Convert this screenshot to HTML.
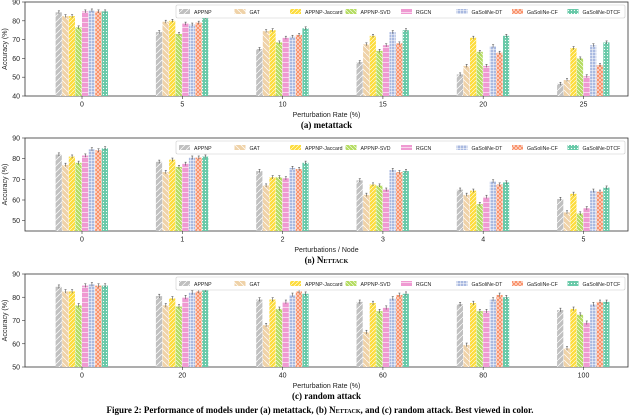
<!DOCTYPE html>
<html><head><meta charset="utf-8"><style>
html,body{margin:0;padding:0;background:#fff;}
svg{display:block;font-family:"Liberation Sans",sans-serif;}
</style></head><body>
<svg id="fig" width="640" height="417" viewBox="0 0 640 417" xmlns="http://www.w3.org/2000/svg">
<defs>
<pattern id="p0" width="6" height="6" patternUnits="userSpaceOnUse"><rect width="6" height="6" fill="#c0c0c0"/><path d="M0,6 L6,0" stroke="#fff" stroke-width="0.7"/></pattern>
<pattern id="p1" width="6" height="6" patternUnits="userSpaceOnUse"><rect width="6" height="6" fill="#efd2a8"/><path d="M0,0 L6,6" stroke="#fff" stroke-width="0.7"/></pattern>
<pattern id="p2" width="4" height="4" patternUnits="userSpaceOnUse"><rect width="4" height="4" fill="#fddc3c"/><path d="M0,4 L4,0" stroke="#fff" stroke-width="0.6"/></pattern>
<pattern id="p3" width="4" height="4" patternUnits="userSpaceOnUse"><rect width="4" height="4" fill="#b4dc60"/><path d="M0,0 L4,4" stroke="#fff" stroke-width="0.6"/></pattern>
<pattern id="p4" width="5" height="5" patternUnits="userSpaceOnUse"><rect width="5" height="5" fill="#ef9ad2"/><path d="M0,2.5 L5,2.5" stroke="#fff" stroke-width="0.6"/></pattern>
<pattern id="p5" width="3" height="3" patternUnits="userSpaceOnUse"><rect width="3" height="3" fill="#a9b9e0"/><path d="M0,1.5 L3,1.5 M1.5,0 L1.5,3" stroke="#fff" stroke-width="0.5"/></pattern>
<pattern id="p6" width="4" height="4" patternUnits="userSpaceOnUse"><rect width="4" height="4" fill="#f9936c"/><path d="M0,0 L4,4 M0,4 L4,0" stroke="#fff" stroke-width="0.5"/></pattern>
<pattern id="p7" width="3" height="3" patternUnits="userSpaceOnUse"><rect width="3" height="3" fill="#68c9a8"/><circle cx="1.5" cy="1.5" r="0.6" fill="#fff"/></pattern>
</defs>
</svg>
<script>
const seriesNames=["APPNP","GAT","APPNP-Jaccard","APPNP-SVD","RGCN","GaSoliNe-DT","GaSoliNe-CF","GaSoliNe-DTCF"];
const catsA=["0","5","10","15","20","25"];
const catsB=["0","1","2","3","4","5"];
const catsC=["0","20","40","60","80","100"];
const valsA=[[84.5,74,65,58,51.5,46.5],[82.5,79.5,74.5,67.5,56,48.5],[82.5,80,75,72,71,65.5],[76.5,73,68.5,64,63.5,60],[85,78.5,71,67,56,50.5],[85.5,78,71.5,74,66.5,67],[85,79,72.5,68,63,56.5],[85,81.5,76,75,72,68.5]];
const valsB=[[82,78.5,74,69.5,65,60.5],[77,73.5,67,62.5,62.5,54],[81,79.5,71,67.5,64.5,63],[78,76,71,67,58,53.5],[81.5,77.5,70.5,65,61.5,56],[84.5,80.5,75.5,74.5,69,64.5],[84,80.5,75,73.5,67.5,64],[85,81,78,74,68.5,66]];
const valsC=[[84.5,80.5,79,78,77,74.5],[82.5,76.5,68,65,59.5,58],[82.5,79.5,79,77.5,77.5,75],[76.5,76,75,74,74,72.5],[85,80,78,75.5,74,69],[85.5,82,81,79.5,79,77],[85,82.5,82.5,81,81,78],[85,83,81.5,81.5,80,78]];
const ticksA=[40,50,60,70,80,90];
const ticksB=[50,60,70,80,90];
const ticksC=[50,60,70,80,90];
const NS="http://www.w3.org/2000/svg";
const svg=document.getElementById('fig');
function mk(t,a,p){const e=document.createElementNS(NS,t);for(const k in a)e.setAttribute(k,a[k]);(p||svg).appendChild(e);return e;}
function txt(x,y,s,size,anchor,extra,p){const e=mk('text',Object.assign({x:x,y:y,'font-size':size,'text-anchor':anchor||'middle',fill:'#222'},extra||{}),p);e.textContent=s;return e;}
function panel(id,top,bot,ymin,ymax,ticks,cats,vals,xlabel,caption,smallcaps){
  const L=25,R=628;
  const g=mk('g',{});
  
  
  const ys=v=>bot-(v-ymin)/(ymax-ymin)*(bot-top);
  const xs=i=>82+i*100.3;
  mk('rect',{x:L,y:top,width:R-L,height:bot-top,fill:'none',stroke:'#333','stroke-width':0.8},g);
  ticks.forEach(t=>{mk('line',{x1:L-3,x2:L,y1:ys(t),y2:ys(t),stroke:'#333','stroke-width':0.6},g);
    const e=txt(L-5,ys(t)+2.5,String(t),7,'end',{},g);});
  const bw=6.6;
  cats.forEach((c,i)=>{mk('line',{x1:xs(i),x2:xs(i),y1:bot,y2:bot+3,stroke:'#333','stroke-width':0.6},g);
    const e=txt(xs(i),bot+10.5,c,7,'middle',{},g);});
  vals.forEach((ser,s)=>{ser.forEach((v,i)=>{
    const x=xs(i)-4*bw+s*bw;
    const r=mk('rect',{x:x,y:ys(v),width:bw-0.4,height:bot-ys(v),fill:'url(#p'+s+')'},g);
    
    
    const cx=x+bw/2;
    mk('line',{x1:cx,x2:cx,y1:ys(v+0.8),y2:ys(v-0.8),stroke:'#555','stroke-width':0.6},g);
    mk('line',{x1:cx-1,x2:cx+1,y1:ys(v+0.8),y2:ys(v+0.8),stroke:'#555','stroke-width':0.6},g);
  });});
  const yl=txt(0,0,'Accuracy (%)',7,'middle',{transform:'translate(7,'+((top+bot)/2)+') rotate(-90)'},g);
  
  const xl=txt((L+R)/2,bot+21,xlabel,7,'middle',{},g);
  
  const cp=txt((L+R)/2,bot+32,caption,9,'middle',{'font-family':'Liberation Serif, serif','font-weight':'bold',fill:'#000'},g);
  if(smallcaps)cp.setAttribute('style','font-variant:small-caps');
  
  const lg=mk('g',{},g);
  
  mk('rect',{x:176,y:top+3,width:449,height:13,fill:'#fff',stroke:'#ccc','stroke-width':0.6,rx:1.5},lg);
  seriesNames.forEach((n,s)=>{const lx=179+s*55.5;
    const sw=mk('rect',{x:lx,y:top+7,width:11,height:5,fill:'url(#p'+s+')'},lg);
    
    const t=txt(lx+15,top+12,n,5.2,'start',{},lg);});
}
panel('metattack',2,96,40,90,ticksA,catsA,valsA,'Perturbation Rate (%)','(a) metattack',false);
panel('nettack',138,231,45,90,ticksB,catsB,valsB,'Perturbations / Node','(b) Nettack',true);
panel('random-attack',274,367,50,90,ticksC,catsC,valsC,'Perturbation Rate (%)','(c) random attack',false);
const fc=mk('text',{x:320,y:413,'font-size':9,'text-anchor':'middle','font-family':'Liberation Serif, serif','font-weight':'bold',fill:'#000'});
fc.innerHTML='Figure 2: Performance of models under (a) metattack, (b) <tspan style="font-variant:small-caps">Nettack</tspan>, and (c) random attack. Best viewed in color.';


</script>
</body></html>
